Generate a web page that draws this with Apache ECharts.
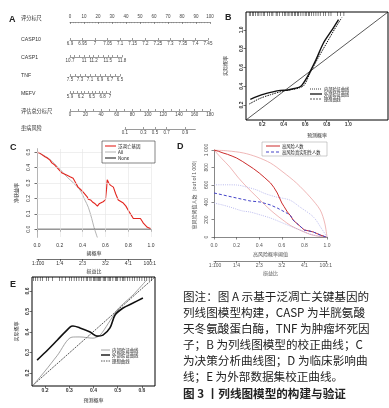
<!DOCTYPE html>
<html>
<head>
<meta charset="utf-8">
<script src="https://cdn.jsdelivr.net/npm/echarts@6/dist/echarts.min.js"></script>
<style>
  html, body { margin: 0; padding: 0; background: #fff; }
  #chart { width: 389px; height: 408px; }
</style>
</head>
<body>
<div id="chart"></div>
<script>
// A 列线图各刻度
const NOMO_ROWS = ['评分标尺', 'CASP10', 'CASP1', 'TNF', 'MEFV', '评估总分标尺', '患病风险']
const CASP10_TICKS = [6.9, 6.95, 7, 7.05, 7.1, 7.15, 7.2, 7.25, 7.3, 7.35, 7.4, 7.45]
const CASP1_TICKS = [10.7, 10.8, 10.9, 11, 11.1, 11.2, 11.3, 11.4, 11.5, 11.6, 11.7, 11.8]
const CASP1_LABELS = [10.7, 11, 11.2, 11.5, 11.8]
const TNF_TICKS = [6.5, 6.6, 6.7, 6.8, 6.9, 7, 7.1, 7.2, 7.3, 7.4, 7.5]
const TNF_LABELS = [7.5, 7.3, 7.1, 6.9, 6.7, 6.5]
const MEFV_TICKS = [5.9, 6, 6.1, 6.2, 6.3, 6.4, 6.5, 6.6, 6.7, 6.8, 6.9, 7]
const MEFV_LABELS = [5.9, 6.2, 6.5, 6.8, 7]
const TOTAL_TICKS = [0, 10, 20, 30, 40, 50, 60, 70, 80, 90, 100, 110, 120, 130, 140, 150, 160, 170, 180]
const TOTAL_LABELS = [0, 20, 40, 60, 80, 100, 120, 140, 160, 180]
const RISK_LABELS = [0.1, 0.3, 0.5, 0.7, 0.9]
const RISK_RANGE = [0.1, 0.95]

// B 校正曲线
const B_EXT = [[0.09, 0.26], [0.2, 0.31], [0.3, 0.34], [0.37, 0.355], [0.44, 0.36], [0.5, 0.375], [0.56, 0.4], [0.62, 0.5], [0.7, 0.68], [0.77, 0.86], [0.85, 1.0], [0.91, 1.11]]
const B_INT = [[0.08, 0.21], [0.18, 0.27], [0.28, 0.31], [0.4, 0.35], [0.48, 0.365], [0.54, 0.38], [0.59, 0.41], [0.65, 0.55], [0.72, 0.7], [0.8, 0.86], [0.87, 1.0], [0.94, 1.13]]
const B_IDEAL = [[0.05, 0.04], [1.37, 1.19]]
const B_RUG = [0.08, 0.09, 0.11, 0.12, 0.14, 0.16, 0.17, 0.19, 0.21, 0.22, 0.25, 0.27, 0.29, 0.3, 0.33, 0.34, 0.36, 0.39, 0.41, 0.42, 0.44, 0.45, 0.47, 0.48, 0.5, 0.51, 0.53, 0.54, 0.56, 0.58, 0.6, 0.61, 0.63, 0.64, 0.66, 0.68, 0.7, 0.72, 0.74, 0.77, 0.79, 0.82, 0.84, 0.9, 0.93, 0.96]

// C 决策曲线
const C_MODEL = [[0, 0.5], [0.02, 0.495], [0.04, 0.485], [0.053, 0.48], [0.07, 0.47], [0.09, 0.462], [0.114, 0.448], [0.13, 0.43], [0.15, 0.42], [0.176, 0.4], [0.2, 0.38], [0.22, 0.364], [0.24, 0.358], [0.264, 0.35], [0.29, 0.34], [0.317, 0.33], [0.34, 0.3], [0.36, 0.273], [0.38, 0.26], [0.405, 0.24], [0.42, 0.235], [0.44, 0.21], [0.45, 0.195], [0.47, 0.19], [0.49, 0.175], [0.51, 0.165], [0.53, 0.15], [0.545, 0.165], [0.56, 0.17], [0.58, 0.178], [0.6, 0.19], [0.61, 0.26], [0.616, 0.32], [0.63, 0.3], [0.643, 0.286], [0.67, 0.273], [0.69, 0.23], [0.713, 0.19], [0.73, 0.18], [0.757, 0.17], [0.78, 0.15], [0.8, 0.123], [0.82, 0.1], [0.845, 0.07], [0.87, 0.07], [0.907, 0.07], [0.92, 0.055], [0.933, 0.04], [0.95, 0.035], [0.968, 0.013], [0.995, 0.005]]
const C_ALL = [[0, 0.5], [0.1, 0.46], [0.2, 0.39], [0.264, 0.338], [0.32, 0.3], [0.378, 0.253], [0.42, 0.19], [0.45, 0.143], [0.48, 0.07], [0.5, 0.013], [0.537, -0.07]]
const C_NONE = [[0, 0], [1, 0]]
const C_YGRID = [0, 0.1, 0.2, 0.3, 0.4, 0.5]
const C_XGRID = [0, 0.2, 0.4, 0.6, 0.8, 1]

// D 临床影响曲线
const D_HIGH = [[0, 1000], [0.04, 985], [0.08, 966], [0.12, 950], [0.16, 930], [0.2, 908], [0.25, 870], [0.3, 828], [0.35, 785], [0.4, 736], [0.45, 680], [0.5, 621], [0.53, 570], [0.56, 506], [0.6, 391], [0.62, 350], [0.65, 287], [0.68, 240], [0.7, 195], [0.73, 160], [0.76, 126], [0.8, 80], [0.84, 70], [0.88, 57], [0.91, 40], [0.94, 23], [0.97, 10], [0.99, 0]]
const D_HIGH_UP = [[0, 1000], [0.12, 990], [0.26, 966], [0.38, 920], [0.5, 850], [0.61, 747], [0.73, 620], [0.85, 460], [0.94, 310], [0.98, 160], [1, 0]]
const D_HIGH_LO = [[0, 1000], [0.07, 900], [0.14, 805], [0.21, 690], [0.29, 575], [0.38, 460], [0.47, 345], [0.54, 265], [0.61, 195], [0.68, 130], [0.76, 80], [0.85, 30], [0.94, 5], [1, 0]]
const D_TP = [[0, 506], [0.08, 483], [0.2, 448], [0.32, 414], [0.41, 402], [0.5, 368], [0.56, 333], [0.61, 299], [0.65, 270], [0.68, 240], [0.7, 195], [0.73, 160], [0.76, 126], [0.8, 80], [0.84, 70], [0.88, 57], [0.91, 40], [0.94, 23], [0.97, 10], [0.99, 0]]
const D_TP_UP = [[0, 600], [0.1, 600], [0.2, 598], [0.3, 570], [0.38, 540], [0.45, 500], [0.55, 460], [0.67, 425], [0.76, 345], [0.88, 230], [0.96, 80], [1, 0]]
const D_TP_LO = [[0, 390], [0.07, 370], [0.14, 345], [0.25, 300], [0.32, 287], [0.42, 250], [0.5, 218], [0.61, 160], [0.76, 80], [0.88, 23], [1, 0]]

// C/D 下方损益比刻度
const COST_RATIO = ['1:100', '1:4', '2:3', '3:2', '4:1', '100:1']
const COST_POS = [0.01, 0.2, 0.4, 0.6, 0.8, 0.99]

// E 外部数据集校正曲线
const E_EXT = [[0.167, 0.263], [0.2, 0.3], [0.25, 0.36], [0.303, 0.424], [0.315, 0.429], [0.344, 0.42], [0.386, 0.4], [0.414, 0.38], [0.439, 0.385], [0.468, 0.42], [0.489, 0.483], [0.522, 0.517], [0.563, 0.541], [0.604, 0.566]]
const E_INT = [[0.15, 0.14], [0.2, 0.21], [0.25, 0.285], [0.311, 0.375], [0.344, 0.376], [0.398, 0.37], [0.427, 0.385], [0.46, 0.44], [0.497, 0.507], [0.53, 0.545], [0.563, 0.58], [0.62, 0.654]]
const E_IDEAL = [[0.146, 0.137], [0.654, 0.668]]
const E_RUG = [0.152, 0.16, 0.17, 0.18, 0.19, 0.205, 0.215, 0.23, 0.26, 0.27, 0.285, 0.3, 0.31, 0.32, 0.33, 0.34, 0.35, 0.36, 0.37, 0.375, 0.385, 0.39, 0.4, 0.405, 0.41, 0.415, 0.42, 0.425, 0.43, 0.44, 0.445, 0.45, 0.46, 0.465, 0.47, 0.48, 0.49, 0.495, 0.5, 0.51, 0.52, 0.525, 0.53, 0.54, 0.55, 0.56, 0.57, 0.58, 0.59, 0.6, 0.61, 0.62, 0.63, 0.64]

const CAPTION = [
  '图注：图 A 示基于泛凋亡关键基因的',
  '列线图模型构建，CASP 为半胱氨酸',
  '天冬氨酸蛋白酶，TNF 为肿瘤坏死因',
  '子；B 为列线图模型的校正曲线；C',
  '为决策分析曲线图；D 为临床影响曲',
  '线；E 为外部数据集校正曲线。'
]
const CAPTION_TITLE = '图 3 丨列线图模型的构建与验证'

const FONT = "'Liberation Sans', 'Noto Sans CJK SC', sans-serif"
const CJK = "'Noto Sans CJK SC', sans-serif"
const logit = p => Math.log(p / (1 - p))
const fmt1 = v => v.toFixed(1)
const costLabel = v => COST_RATIO[COST_POS.findIndex(p => Math.abs(p - v) < 1e-6)] || ''

function grid(left, top, width, height, extra) {
  return Object.assign({ left, top, width, height, containLabel: false, outerBoundsMode: 'none' }, extra || {})
}

// 列线图单行刻度轴
function rowAxis(gridIndex, o) {
  return {
    type: 'value',
    gridIndex,
    position: o.position || 'bottom',
    min: o.min,
    max: o.max,
    inverse: !!o.inverse,
    interval: o.interval,
    axisLine: { lineStyle: { color: '#555', width: 0.6 } },
    axisTick: { inside: true, length: 2, customValues: o.ticks, lineStyle: { color: '#555', width: 0.6 } },
    minorTick: o.minor ? { show: true, splitNumber: o.minor, length: 1.2, lineStyle: { color: '#777', width: 0.5 } } : { show: false },
    axisLabel: {
      customValues: o.labels,
      formatter: o.formatter || (v => String(+v.toFixed(2))),
      fontSize: 4.5,
      color: '#444',
      margin: 2,
      fontFamily: FONT
    },
    splitLine: { show: false }
  }
}

function hiddenY(gridIndex) {
  return { type: 'value', gridIndex, show: false, min: 0, max: 1 }
}

// 图内坐标轴
function plotAxis(gridIndex, o) {
  return Object.assign({
    type: 'value',
    gridIndex,
    axisLine: { show: o.line !== false, lineStyle: { color: o.color || '#333', width: 0.7 } },
    axisTick: { length: 2.5, customValues: o.ticks, lineStyle: { color: o.color || '#333', width: 0.7 } },
    axisLabel: {
      customValues: o.ticks,
      formatter: o.formatter || fmt1,
      fontSize: 5,
      fontWeight: o.bold ? 'bold' : 'normal',
      color: o.color || '#333',
      margin: 2,
      rotate: o.rotate || 0,
      fontFamily: FONT
    },
    splitLine: { show: false },
    nameLocation: 'middle',
    nameTextStyle: { fontSize: 5, color: o.color || '#333', fontFamily: CJK }
  }, o.extra)
}

function line(name, data, xi, yi, style, smooth) {
  return {
    type: 'line',
    name,
    data,
    xAxisIndex: xi,
    yAxisIndex: yi,
    symbol: 'none',
    smooth: smooth || false,
    lineStyle: { color: style.color, width: style.width, type: style.dash || 'solid' },
    z: 3
  }
}

function rug(data, xi, yi, yTop) {
  return {
    type: 'scatter',
    data: data.map(x => [x, yTop]),
    xAxisIndex: xi,
    yAxisIndex: yi,
    symbol: 'rect',
    symbolSize: [0.6, 4],
    symbolOffset: [0, 2],
    itemStyle: { color: '#000' },
    clip: false,
    silent: true
  }
}

function legendItem(x, y, text, st, len, size) {
  return [
    { type: 'line', shape: { x1: x, y1: y, x2: x + len, y2: y }, style: { stroke: st.color, lineWidth: st.width, lineDash: st.dash || null } },
    { type: 'text', x: x + len + 2, y, style: { text, fontSize: size, fontFamily: CJK, fill: '#222', verticalAlign: 'middle' } }
  ]
}

function label(x, y, text, size, bold) {
  return { type: 'text', x, y, style: { text, fontSize: size, fontWeight: bold ? 'bold' : 'normal', fontFamily: FONT, fill: '#222', verticalAlign: 'middle' } }
}

const riskLeft = 155 + 13.7 * logit(RISK_RANGE[0])
const riskWidth = 13.7 * (logit(RISK_RANGE[1]) - logit(RISK_RANGE[0]))

const grids = [
  grid(70, 21, 140, 1),
  grid(70, 39, 138, 1),
  grid(70, 56, 52, 1),
  grid(70, 75, 50, 1),
  grid(70, 92, 40, 1),
  grid(70, 110, 140, 1),
  grid(riskLeft, 128, riskWidth, 1),
  grid(246, 12, 142, 108, { show: true, borderColor: '#000', borderWidth: 1, backgroundColor: 'transparent' }),
  grid(37, 149, 114, 88),
  grid(214, 150, 113, 87),
  grid(32, 277, 123, 109, { show: true, borderColor: '#000', borderWidth: 1, backgroundColor: 'transparent' })
]

const xAxes = [
  rowAxis(0, { position: 'top', min: 0, max: 100, interval: 10, minor: 5 }),
  rowAxis(1, { min: 6.9, max: 7.45, ticks: CASP10_TICKS, labels: CASP10_TICKS }),
  rowAxis(2, { min: 10.7, max: 11.8, ticks: CASP1_TICKS, labels: CASP1_LABELS }),
  rowAxis(3, { min: 6.5, max: 7.5, inverse: true, ticks: TNF_TICKS, labels: TNF_LABELS }),
  rowAxis(4, { min: 5.9, max: 7, ticks: MEFV_TICKS, labels: MEFV_LABELS }),
  rowAxis(5, { min: 0, max: 180, ticks: TOTAL_TICKS, labels: TOTAL_LABELS }),
  rowAxis(6, {
    min: logit(RISK_RANGE[0]),
    max: logit(RISK_RANGE[1]),
    ticks: RISK_LABELS.map(logit),
    labels: RISK_LABELS.map(logit),
    formatter: v => (1 / (1 + Math.exp(-v))).toFixed(1)
  }),
  plotAxis(7, { ticks: [0.2, 0.4, 0.6, 0.8, 1.0], bold: true, line: false,
    extra: { min: 0.05, max: 1.37, name: '预测概率', nameGap: 13 } }),
  plotAxis(8, { ticks: C_XGRID, extra: { position: 'bottom', min: 0, max: 1, offset: 4, name: '阈概率', nameGap: 10 } }),
  plotAxis(8, { ticks: COST_POS, formatter: costLabel, extra: { position: 'bottom', min: 0, max: 1, offset: 22, name: '损益比', nameGap: 10 } }),
  plotAxis(9, { ticks: C_XGRID, color: '#555', extra: { position: 'bottom', min: 0, max: 1, offset: 4, name: '高风险概率阈值', nameGap: 11 } }),
  plotAxis(9, { ticks: COST_POS, color: '#555', formatter: costLabel, extra: { position: 'bottom', min: 0, max: 1, offset: 24, name: '损益比', nameGap: 10 } }),
  plotAxis(10, { ticks: [0.2, 0.3, 0.4, 0.5, 0.6], bold: true, line: false,
    extra: { min: 0.146, max: 0.654, name: '预测概率', nameGap: 12 } })
]

const yAxes = [
  hiddenY(0), hiddenY(1), hiddenY(2), hiddenY(3), hiddenY(4), hiddenY(5), hiddenY(6),
  plotAxis(7, { ticks: [0.2, 0.4, 0.6, 0.8, 1.0], bold: true, line: false, rotate: 90,
    extra: { min: 0.04, max: 1.19, name: '实际概率', nameGap: 18 } }),
  plotAxis(8, { ticks: C_YGRID, rotate: 90, extra: { min: -0.05, max: 0.52, offset: 4, name: '净获益率', nameGap: 14 } }),
  plotAxis(9, { ticks: [0, 200, 400, 600, 800, 1000], rotate: 90, color: '#555',
    formatter: v => (v === 1000 ? '1 000' : String(v)),
    extra: { min: 0, max: 1000, offset: 3, name: '高风险阈值人数（out of 1 000）', nameGap: 14 } }),
  plotAxis(10, { ticks: [0.2, 0.3, 0.4, 0.5, 0.6], bold: true, line: false, rotate: 90,
    extra: { min: 0.137, max: 0.668, name: '实际概率', nameGap: 13 } })
]

const BLACK = '#111'
const series = [
  // B
  line('理想曲线B', B_IDEAL, 7, 7, { color: BLACK, width: 0.7 }),
  line('内部验证曲线B', B_INT, 7, 7, { color: BLACK, width: 1, dash: [1.5, 1] }, 0.3),
  line('外部验证曲线B', B_EXT, 7, 7, { color: BLACK, width: 1.4 }, 0.3),
  rug(B_RUG, 7, 7, 1.19),
  // C 网格线
  {
    type: 'line', data: [[0, 0]], xAxisIndex: 8, yAxisIndex: 8, symbol: 'none', z: 1,
    lineStyle: { opacity: 0 },
    markLine: {
      silent: true, symbol: 'none', label: { show: false },
      lineStyle: { color: '#e4e4e4', width: 0.6, type: 'solid' },
      data: C_YGRID.map(v => ({ yAxis: v })).concat(C_XGRID.map(v => ({ xAxis: v })))
    }
  },
  line('All', C_ALL, 8, 8, { color: '#b4b4b4', width: 1 }, 0.3),
  line('None', C_NONE, 8, 8, { color: BLACK, width: 1 }),
  line('泛凋亡基因', C_MODEL, 8, 8, { color: '#e3261f', width: 1.1 }),
  // D
  line('高风险人数上限', D_HIGH_UP, 10, 9, { color: '#eba4a4', width: 0.8 }, 0.3),
  line('高风险人数下限', D_HIGH_LO, 10, 9, { color: '#eba4a4', width: 0.8 }, 0.3),
  line('真阳性上限', D_TP_UP, 10, 9, { color: '#a9a9ea', width: 0.8, dash: [1, 1.2] }, 0.3),
  line('真阳性下限', D_TP_LO, 10, 9, { color: '#a9a9ea', width: 0.8, dash: [1, 1.2] }, 0.3),
  line('高风险人数', D_HIGH, 10, 9, { color: '#cc2b2b', width: 1 }),
  line('高风险真实阳性人数', D_TP, 10, 9, { color: '#4444c8', width: 1, dash: [3, 2] }),
  // E
  line('理想曲线E', E_IDEAL, 12, 10, { color: BLACK, width: 0.7, dash: [2, 1] }),
  line('内部验证曲线E', E_INT, 12, 10, { color: '#8a8a8a', width: 0.8 }, 0.3),
  line('外部验证曲线E', E_EXT, 12, 10, { color: BLACK, width: 1.6 }, 0.3),
  rug(E_RUG, 12, 10, 0.668)
]

const rowY = [19, 40, 58, 76, 94, 112, 129]
const elements = []
NOMO_ROWS.forEach((t, i) => elements.push({
  type: 'text', x: 21, y: rowY[i],
  style: { text: t, fontSize: 5.2, fontFamily: FONT, fill: '#333', verticalAlign: 'middle' }
}))
elements.push(label(9, 20, 'A', 9, true), label(225, 18, 'B', 9, true), label(10, 148, 'C', 9, true),
  label(177, 147, 'D', 9, true), label(10, 285, 'E', 9, true))

// 图例
elements.push(...legendItem(310, 89, '内部验证曲线', { color: BLACK, width: 0.8, dash: [1, 1] }, 12, 4.2))
elements.push(...legendItem(310, 94, '外部验证曲线', { color: BLACK, width: 1.3 }, 12, 4.2))
elements.push(...legendItem(310, 99, '理想曲线', { color: BLACK, width: 0.7, dash: [2, 1] }, 12, 4.2))

elements.push({ type: 'rect', shape: { x: 102, y: 141, width: 53, height: 22 }, style: { fill: '#fff', stroke: '#333', lineWidth: 0.6 }, z: 10 })
elements.push(...legendItem(105, 146, '泛凋亡基因', { color: '#e3261f', width: 1.1 }, 11, 4.5).map(e => Object.assign(e, { z: 11 })))
elements.push(...legendItem(105, 152, 'All', { color: '#b4b4b4', width: 1 }, 11, 4.5).map(e => Object.assign(e, { z: 11 })))
elements.push(...legendItem(105, 158, 'None', { color: BLACK, width: 1 }, 11, 4.5).map(e => Object.assign(e, { z: 11 })))

elements.push({ type: 'rect', shape: { x: 262, y: 142, width: 65, height: 14 }, style: { fill: '#fff', stroke: '#999', lineWidth: 0.5 }, z: 10 })
elements.push(...legendItem(266, 146, '高风险人数', { color: '#cc2b2b', width: 1 }, 14, 4.3).map(e => Object.assign(e, { z: 11 })))
elements.push(...legendItem(266, 152, '高风险真实阳性人数', { color: '#4444c8', width: 1, dash: [3, 2] }, 14, 4.3).map(e => Object.assign(e, { z: 11 })))

elements.push(...legendItem(101, 350, '内部验证曲线', { color: '#8a8a8a', width: 0.8 }, 9, 4.4))
elements.push(...legendItem(101, 355, '外部验证曲线', { color: BLACK, width: 1.4 }, 9, 4.4))
elements.push(...legendItem(101, 361, '理想曲线', { color: BLACK, width: 0.7, dash: [1.5, 1] }, 9, 4.4))

// 图注
const capY = [297, 313, 329, 345, 361, 377]
CAPTION.forEach((t, i) => elements.push({
  type: 'text', x: 183, y: capY[i],
  style: { text: t, fontSize: 11.6, fontFamily: CJK, fill: '#222', verticalAlign: 'middle' }
}))
elements.push({
  type: 'text', x: 183, y: 394,
  style: { text: CAPTION_TITLE, fontSize: 11.6, fontWeight: 'bold', fontFamily: CJK, fill: '#222', verticalAlign: 'middle' }
})

const chart = echarts.init(document.getElementById('chart'))
chart.setOption({
  animation: false,
  backgroundColor: '#fff',
  textStyle: { fontFamily: FONT },
  grid: grids,
  xAxis: xAxes,
  yAxis: yAxes,
  series,
  graphic: { elements }
})
</script>
</body>
</html>
